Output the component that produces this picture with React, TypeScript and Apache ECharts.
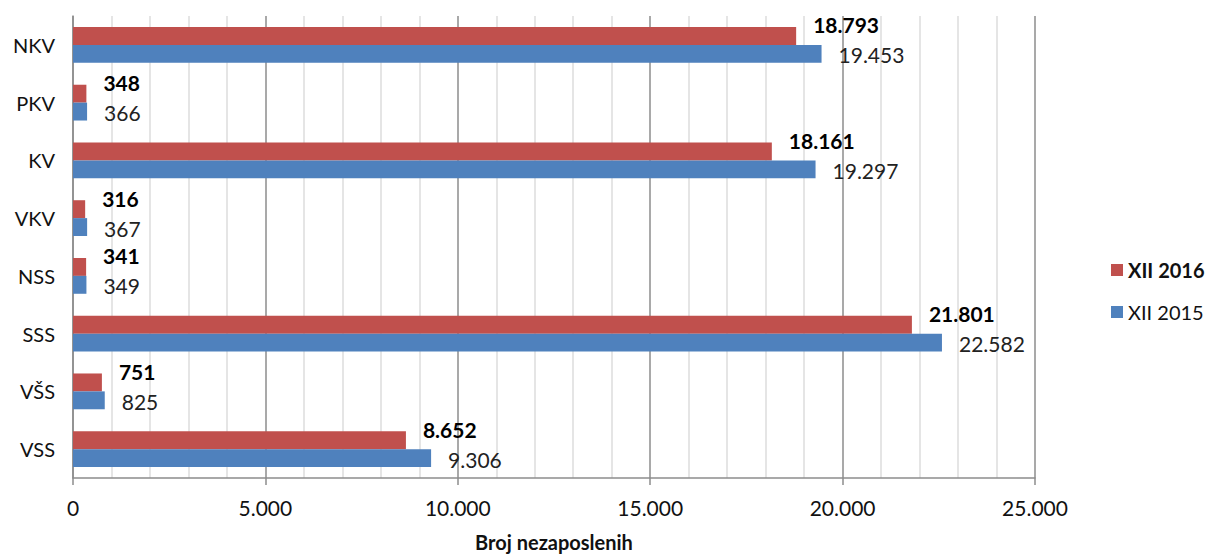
import React, { useEffect, useRef } from "react";
import * as echarts from "echarts";

const categories = ["NKV", "PKV", "KV", "VKV", "NSS", "SSS", "VŠS", "VSS"];
const values2016 = [18793, 348, 18161, 316, 341, 21801, 751, 8652];
const values2015 = [19453, 366, 19297, 367, 349, 22582, 825, 9306];
const seriesNames = ["XII 2016", "XII 2015"];
const xTicks = { min: 0, max: 25000, interval: 5000 };
const axisName = "Broj nezaposlenih";

const fmt = (v: number) => String(Math.round(v)).replace(/\B(?=(\d{3})+(?!\d))/g, ".");

const FONT = "Lato, 'Noto Sans', sans-serif";

export default function App() {
  const ref = useRef<HTMLDivElement>(null);
  useEffect(() => {
    if (!ref.current) return;
    const chart = echarts.init(ref.current, undefined, { renderer: "svg" });
    chart.setOption({
      animation: false,
      textStyle: { fontFamily: FONT },
      grid: { left: 73, right: 172, top: 16, bottom: 76, containLabel: false, outerBoundsMode: "none" },
      legend: {
        orient: "vertical",
        left: 1106,
        top: 255,
        itemWidth: 12,
        itemHeight: 12,
        itemGap: 22,
        icon: "rect",
        textStyle: { fontFamily: FONT, fontSize: 20, color: "#111" },
        data: [
          { name: seriesNames[0], textStyle: { fontWeight: "bold" } },
          { name: seriesNames[1], textStyle: { fontWeight: "normal" } },
        ],
      },
      xAxis: {
        type: "value",
        min: xTicks.min,
        max: xTicks.max,
        interval: xTicks.interval,
        name: axisName,
        nameLocation: "middle",
        nameGap: 54,
        nameTextStyle: { fontFamily: FONT, fontSize: 20, fontWeight: "bold", color: "#111" },
        axisLine: { show: true, lineStyle: { color: "#8c8c8c", width: 1.5 } },
        axisTick: { show: true, length: 7, lineStyle: { color: "#8c8c8c", width: 1.5 } },
        axisLabel: { formatter: (v: number) => fmt(v), fontFamily: FONT, fontSize: 21, color: "#111", margin: 19 },
        splitLine: { show: true, lineStyle: { color: "#8c8c8c", width: 1.5 } },
        minorTick: { show: false, splitNumber: 5 },
        minorSplitLine: { show: true, lineStyle: { color: "#dcdcdc", width: 1.5 } },
      },
      yAxis: {
        type: "category",
        data: categories,
        inverse: true,
        axisLine: { show: true, lineStyle: { color: "#8c8c8c", width: 1.5 } },
        axisTick: { show: false },
        axisLabel: { fontFamily: FONT, fontSize: 20, color: "#111", margin: 18 },
        splitLine: { show: false },
      },
      series: [
        {
          name: seriesNames[0],
          type: "bar",
          data: values2016,
          barGap: "0%",
          barCategoryGap: "38%",
          itemStyle: { color: "#C0504D" },
          label: {
            show: true,
            position: "right",
            distance: 0,
            offset: [17, -11],
            formatter: (p: any) => fmt(p.value),
            fontFamily: FONT,
            fontSize: 21,
            fontWeight: "bold",
            color: "#000",
          },
        },
        {
          name: seriesNames[1],
          type: "bar",
          data: values2015,
          barGap: "0%",
          barCategoryGap: "38%",
          itemStyle: { color: "#4F81BD" },
          label: {
            show: true,
            position: "right",
            distance: 0,
            offset: [17, 1],
            formatter: (p: any) => fmt(p.value),
            fontFamily: FONT,
            fontSize: 21,
            color: "#222",
          },
        },
      ],
    });
    return () => chart.dispose();
  }, []);
  return (
    <div
      ref={ref}
      style={{ position: "fixed", left: 0, top: 0, width: 1207, height: 554, background: "#fff" }}
    />
  );
}
